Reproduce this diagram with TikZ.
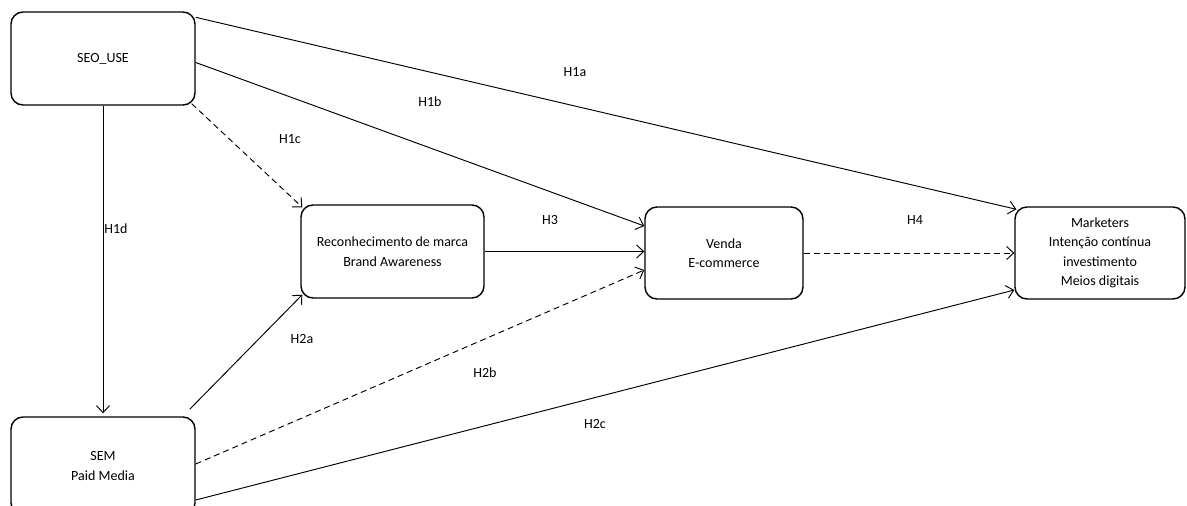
\documentclass[tikz,border=0pt]{standalone}
\usepackage{fontspec}
\setmainfont{Carlito}
\usetikzlibrary{arrows.meta}
\tikzset{
  box/.style={draw, line width=1.4pt, rounded corners=12pt, align=center, inner sep=0pt, font=\fontsize{14}{19.5}\selectfont},
  conn/.style={line width=0.95pt, -{Straight Barb[length=7pt,width=13pt,line width=0.95pt]}},
  dconn/.style={conn, dash pattern=on 6pt off 4pt},
  lab/.style={font=\fontsize{14}{17}\selectfont}
}
\begin{document}
\begin{tikzpicture}[x=1pt,y=-1pt]
\useasboundingbox (0,0) rectangle (1187,506);
\node[box, minimum width=184pt, minimum height=93pt] (seo) at (103,58.5) {SEO\_USE};
\node[box, minimum width=184pt, minimum height=98pt] (sem) at (103,466) {SEM\\Paid Media};
\node[box, minimum width=183pt, minimum height=93pt] (brand) at (392.5,251.5) {Reconhecimento de marca\\Brand Awareness};
\node[box, minimum width=158pt, minimum height=92pt] (venda) at (724,253) {Venda\\E-commerce};
\node[box, minimum width=170pt, minimum height=92pt] (mk) at (1100,253) {Marketers\\Intenção contínua\\investimento\\Meios digitais};

\draw[conn] ([yshift=-6pt]seo.north east) -- ([xshift=2pt,yshift=-3pt]mk.north west);
\draw[conn] ([yshift=-4pt]seo.east) -- ([yshift=27pt]venda.west);
\draw[dconn] ([xshift=-4pt,yshift=2pt]seo.south east) -- ([xshift=2pt,yshift=-3pt]brand.north west);
\draw[conn, shorten >=3pt] (seo.south) -- (sem.north);
\draw[conn] (brand.east) -- (brand.east -| venda.west);
\draw[dconn] (venda.east) -- (venda.east -| mk.west);
\draw[conn] ([xshift=-6pt,yshift=7pt]sem.north east) -- ([xshift=2pt,yshift=4pt]brand.south west);
\draw[dconn] ([yshift=2pt]sem.east) -- ([yshift=-17pt]venda.west);
\draw[conn] ([yshift=-34pt]sem.east) -- ([yshift=-37pt]mk.west);

\node[lab] (l1a) at (575,72) {H1a};
\node[lab] (l1b) at (430,102) {H1b};
\node[lab] (l1c) at (290,139) {H1c};
\node[lab] (l1d) at (116,229) {H1d};
\node[lab] (l3) at (550,220) {H3};
\node[lab] (l4) at (915,220) {H4};
\node[lab] (l2a) at (302,339) {H2a};
\node[lab] (l2b) at (485,373) {H2b};
\node[lab] (l2c) at (595,424) {H2c};
\end{tikzpicture}
\end{document}
